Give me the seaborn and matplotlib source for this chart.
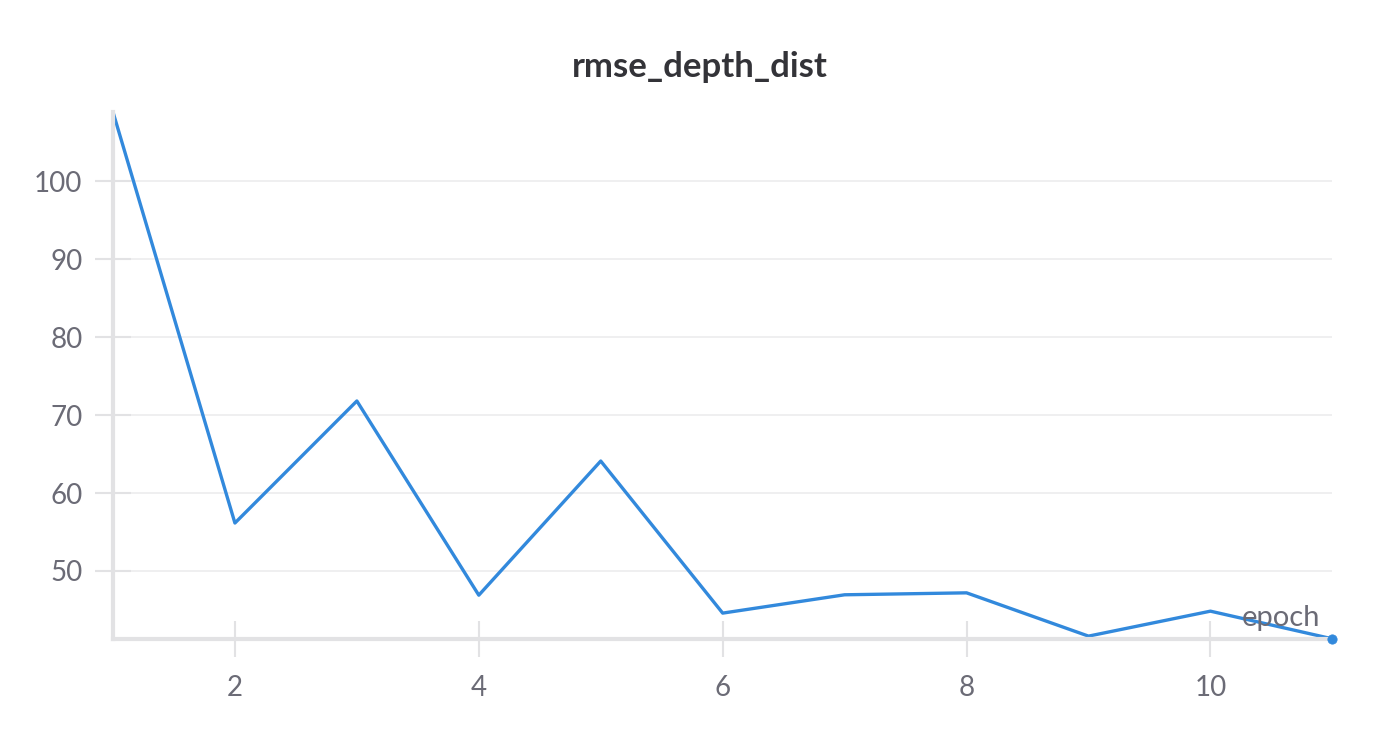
import matplotlib
matplotlib.use('Agg')
import matplotlib.pyplot as plt
import pandas as pd
import seaborn as sns

# values
epochs = [1, 2, 3, 4, 5, 6, 7, 8, 9, 10, 11]
rmse_depth_dist = [108.85, 56.15, 71.8, 46.9, 64.1, 44.6, 46.95, 47.2, 41.65, 44.85, 41.3]
x_ticks = [2, 4, 6, 8, 10]
y_ticks = [50, 60, 70, 80, 90, 100]

LINE = '#3289dc'
TEXT = '#6b6b76'
SPINE = '#e2e2e4'
GRID = '#ececee'


def main():
    df = pd.DataFrame({'epoch': epochs, 'rmse_depth_dist': rmse_depth_dist})

    sns.set_theme(style='white')
    plt.rcParams['font.family'] = ['Lato', 'DejaVu Sans']

    fig = plt.figure(figsize=(14, 7.35), dpi=100)
    ax = fig.add_axes([0.0807, 0.1306, 0.871, 0.717])

    sns.lineplot(data=df, x='epoch', y='rmse_depth_dist', color=LINE, linewidth=2.4, ax=ax)
    # marker on the last point
    last = df.iloc[[-1]]
    sns.scatterplot(data=last, x='epoch', y='rmse_depth_dist', color=LINE, s=45,
                    edgecolor=LINE, ax=ax, zorder=5, clip_on=False)

    ax.set_xlim(1, 11)
    ax.set_ylim(41.28, 108.85)
    ax.set_xticks(x_ticks)
    ax.set_yticks(y_ticks)
    ax.set_xlabel('')
    ax.set_ylabel('')

    ax.grid(axis='y', color=GRID, linewidth=1.2)
    ax.set_axisbelow(True)
    for side in ['top', 'right']:
        ax.spines[side].set_visible(False)
    for side in ['left', 'bottom']:
        ax.spines[side].set_color(SPINE)
        ax.spines[side].set_linewidth(3)
    ax.tick_params(axis='both', which='major', bottom=True, left=True,
                   direction='inout', length=26, width=1.5, color=SPINE,
                   labelcolor=TEXT, labelsize=20)
    ax.tick_params(axis='x', pad=13)
    ax.tick_params(axis='y', pad=9)

    ax.text(0.99, 0.015, 'epoch', transform=ax.transAxes, ha='right', va='bottom',
            fontsize=21, color=TEXT)
    fig.suptitle('rmse_depth_dist', x=0.5, y=0.93, fontsize=25, fontweight='bold',
                 color='#333338')

    fig.savefig('out.png', dpi=100, facecolor='white')


if __name__ == '__main__':
    main()
